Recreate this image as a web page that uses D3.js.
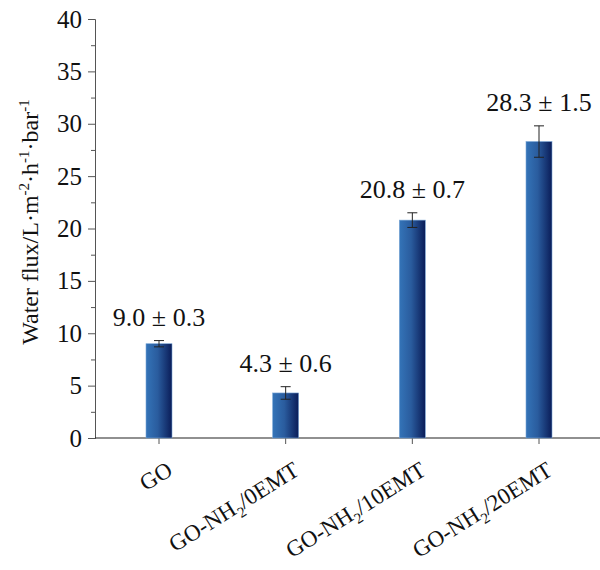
<!DOCTYPE html>
<html lang="en">
<head>
<meta charset="utf-8">
<title>Water flux bar chart</title>
<script src="https://cdn.jsdelivr.net/npm/d3@7"></script>
<style>
  body { margin: 0; background: #fff; }
  text { font-family: "Liberation Serif", "Times New Roman", serif; fill: #111; }
</style>
</head>
<body>
<svg id="chart"></svg>
<script>
// data
var categories = ["GO", "GO-NH2/0EMT", "GO-NH2/10EMT", "GO-NH2/20EMT"];
var fluxValues = [9.0, 4.3, 20.8, 28.3];
var fluxErrors = [0.3, 0.6, 0.7, 1.5];
var yTicks = [0, 5, 10, 15, 20, 25, 30, 35, 40];

var width = 600, height = 570,
    mLeft = 95, mRight = 600, mTop = 19, mBottom = 438;
var serif = '"Liberation Serif", "Times New Roman", serif';

var svg = d3.select("#chart").attr("width", width).attr("height", height);

// gradient for bars, light blue -> navy
var grad = svg.append("defs").append("linearGradient")
  .attr("id", "barGrad").attr("x1", 0).attr("x2", 1).attr("y1", 0).attr("y2", 0);
grad.append("stop").attr("offset", "0%").attr("stop-color", "#3474b8");
grad.append("stop").attr("offset", "45%").attr("stop-color", "#2a5c9e");
grad.append("stop").attr("offset", "100%").attr("stop-color", "#0a1c58");

var x = d3.scalePoint().domain(categories).range([159, 539]);
var y = d3.scaleLinear().domain([0, 40]).range([mBottom, mTop]);
var barW = 26;

// y axis (major + minor ticks)
var yAxis = svg.append("g").attr("transform", "translate(" + mLeft + ",0)")
  .call(d3.axisLeft(y).tickValues(yTicks).tickSize(7).tickPadding(6));
yAxis.select(".domain").attr("stroke", "#555");
yAxis.selectAll(".tick line").attr("stroke", "#555");
yAxis.selectAll(".tick text")
  .style("font-family", serif)
  .style("font-size", "25px").attr("fill", "#111");

svg.append("g").attr("transform", "translate(" + mLeft + ",0)")
  .call(d3.axisLeft(y).tickValues(d3.range(2.5, 40, 5)).tickSize(4).tickFormat(""))
  .call(g => g.select(".domain").remove())
  .selectAll("line").attr("stroke", "#555");

// x axis baseline and ticks
svg.append("line").attr("x1", mLeft).attr("x2", mRight)
  .attr("y1", mBottom).attr("y2", mBottom).attr("stroke", "#222").attr("stroke-width", 1.2);
svg.selectAll(".xtick").data(categories).enter().append("line")
  .attr("x1", d => x(d)).attr("x2", d => x(d))
  .attr("y1", mBottom).attr("y2", mBottom + 6).attr("stroke", "#555");

// bars
svg.selectAll(".bar").data(fluxValues).enter().append("rect")
  .attr("x", (d, i) => x(categories[i]) - barW / 2)
  .attr("width", barW)
  .attr("y", d => y(d))
  .attr("height", d => y(0) - y(d))
  .attr("fill", "url(#barGrad)")
  .attr("stroke", "#7aa6d6").attr("stroke-width", 0.6);

// error bars
var eb = svg.selectAll(".err").data(fluxValues).enter().append("g")
  .attr("transform", (d, i) => "translate(" + x(categories[i]) + ",0)");
eb.append("line")
  .attr("y1", (d, i) => y(d - fluxErrors[i])).attr("y2", (d, i) => y(d + fluxErrors[i]))
  .attr("stroke", "#222");
eb.append("line").attr("x1", -5).attr("x2", 5)
  .attr("y1", (d, i) => y(d - fluxErrors[i])).attr("y2", (d, i) => y(d - fluxErrors[i]))
  .attr("stroke", "#222");
eb.append("line").attr("x1", -5).attr("x2", 5)
  .attr("y1", (d, i) => y(d + fluxErrors[i])).attr("y2", (d, i) => y(d + fluxErrors[i]))
  .attr("stroke", "#222");

// value labels
svg.selectAll(".val").data(fluxValues).enter().append("text")
  .attr("x", (d, i) => x(categories[i]))
  .attr("y", (d, i) => y(d + fluxErrors[i]) - 15)
  .attr("text-anchor", "middle")
  .style("font-family", serif)
  .style("font-size", "26px")
  .text((d, i) => d.toFixed(1) + " \u00b1 " + fluxErrors[i].toFixed(1));

// category labels, rotated, with subscript 2
var xl = svg.selectAll(".xlab").data(categories).enter().append("text")
  .attr("text-anchor", "end")
  .attr("transform", d => "translate(" + (x(d) + 15) + ",474) rotate(-32)")
  .style("font-family", serif)
  .style("font-size", "23px");
xl.each(function (d) {
  var t = d3.select(this);
  var parts = d.split("NH2");
  if (parts.length === 1) { t.text(d); return; }
  t.append("tspan").text(parts[0] + "NH");
  t.append("tspan").attr("dy", 6).style("font-size", "15px").text("2");
  t.append("tspan").attr("dy", -6).text(parts[1]);
});

// y axis title with superscripts
var yt = svg.append("text")
  .attr("transform", "translate(38,222) rotate(-90)")
  .attr("text-anchor", "middle")
  .style("font-family", serif)
  .style("font-size", "24px");
yt.append("tspan").text("Water flux/L\u00b7m");
yt.append("tspan").attr("dy", -9).style("font-size", "15px").text("-2");
yt.append("tspan").attr("dy", 9).text("\u00b7h");
yt.append("tspan").attr("dy", -9).style("font-size", "15px").text("-1");
yt.append("tspan").attr("dy", 9).text("\u00b7bar");
yt.append("tspan").attr("dy", -9).style("font-size", "15px").text("-1");
</script>
</body>
</html>
